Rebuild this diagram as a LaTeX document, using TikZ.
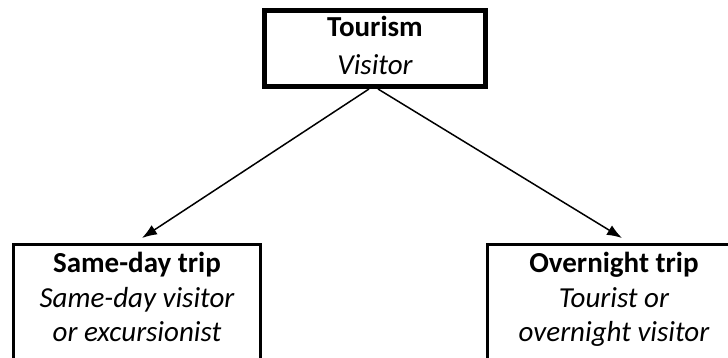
\documentclass[tikz,border=0pt]{standalone}
\usepackage{fontspec}
\setmainfont{Carlito}
\usetikzlibrary{arrows.meta}
\begin{document}
\begin{tikzpicture}[x=1pt,y=-1pt,
  topbox/.style={draw,line width=5pt,minimum width=221pt,minimum height=76pt,inner sep=0pt},
  tripbox/.style={draw,line width=3pt,inner sep=0pt,minimum height=155pt},
  lblb/.style={anchor=base,inner sep=0pt,font=\fontsize{29}{34}\selectfont\bfseries},
  lbli/.style={anchor=base,inner sep=0pt,font=\fontsize{29}{34}\selectfont\itshape},
  arr/.style={line width=1.5pt,-{Latex[length=15pt,width=11pt]}}]
\useasboundingbox (0,0) rectangle (728,358);
\clip (0,0) rectangle (728,358);
% boxes
\node[topbox] (top) at (375,48.5) {};
\node[tripbox,minimum width=247pt] (day) at (137,322) {};
\node[tripbox,minimum width=251pt] (night) at (613,322) {};
% texts
\node[lblb] (toptitle) at (375,37) {Tourism};
\node[lbli] (topsub) at (375,75) {Visitor};
\node[lblb] (daytitle) at (137,272) {Same-day trip};
\node[lbli] (daysub1) at (137,307) {Same-day visitor};
\node[lbli] (daysub2) at (137,341) {or excursionist};
\node[lblb] (nighttitle) at (614,272) {Overnight trip};
\node[lbli] (nightsub1) at (614,307) {Tourist or};
\node[lbli] (nightsub2) at (614,341) {overnight visitor};
% arrows
\coordinate (dayend) at (142,238);
\coordinate (nightend) at (622,238);
\draw[arr] ([xshift=-6pt]top.south) -- (dayend);
\draw[arr] ([xshift=3pt]top.south) -- (nightend);
\end{tikzpicture}
\end{document}
